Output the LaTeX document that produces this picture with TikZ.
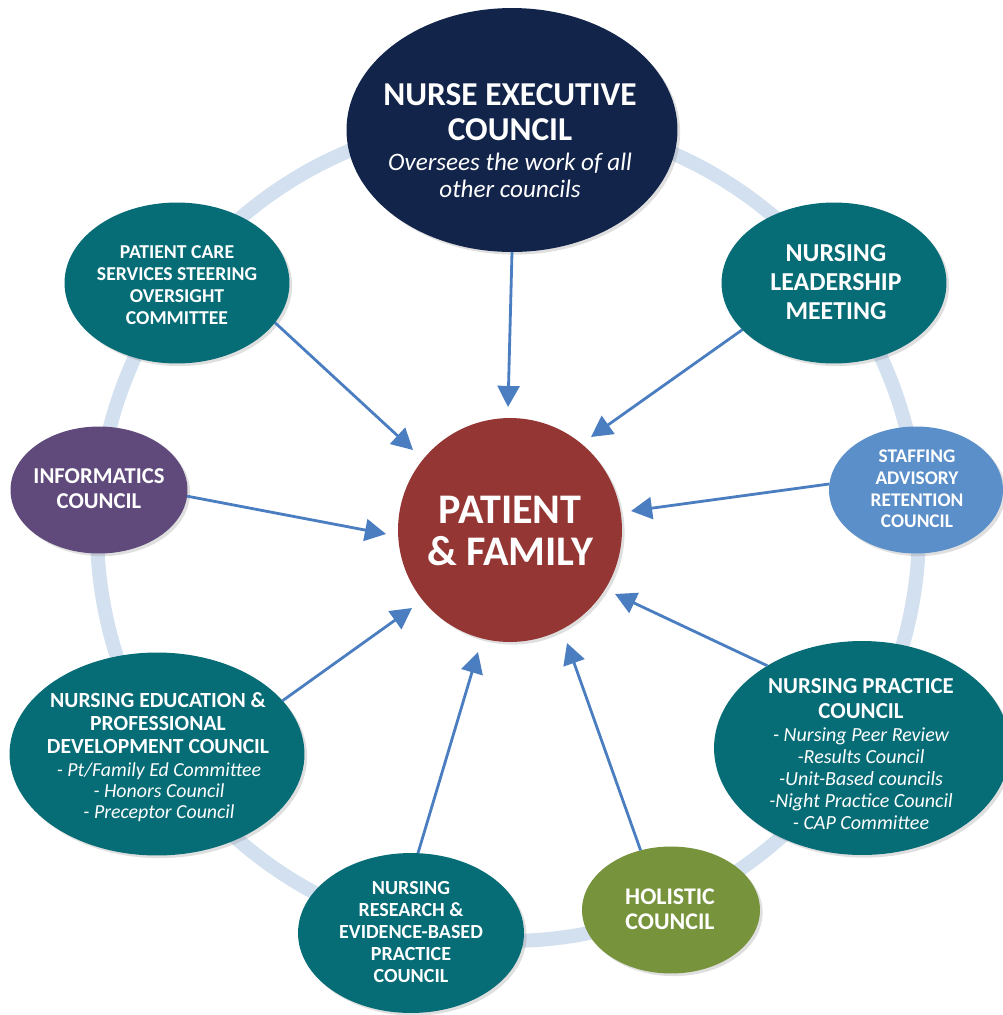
\documentclass[tikz,border=0pt]{standalone}
\usepackage{fontspec}
\setmainfont{Carlito}
\usetikzlibrary{shapes.geometric,arrows.meta,shadows}
\definecolor{navyc}{HTML}{12244A}
\definecolor{brickc}{HTML}{943634}
\definecolor{tealc}{HTML}{066C76}
\definecolor{purpc}{HTML}{604A7B}
\definecolor{skybc}{HTML}{5B8FCA}
\definecolor{olivec}{HTML}{77933C}
\definecolor{ringc}{HTML}{D3E0EF}
\definecolor{arrc}{HTML}{4A7EC0}
\begin{document}
\begin{tikzpicture}[x=0.02cm,y=-0.02cm,
  blob/.style={ellipse, inner sep=0pt, outer sep=0pt,
    drop shadow={shadow xshift=1.5pt,shadow yshift=-1.5pt,opacity=0.25}},
  lbl/.style={text=white, align=center, inner sep=0pt},
  arr/.style={draw=arrc, line width=1.6pt, -{Triangle[length=12pt,width=12.5pt]}},
  fsz/.style n args={2}{font=\fontsize{#1pt}{#2pt}\selectfont\bfseries},
  isz/.style n args={2}{font=\fontsize{#1pt}{#2pt}\selectfont\itshape},
]
\useasboundingbox (0,0) rectangle (1003,1015);
\draw[ringc, line width=8pt] (508,530) circle[radius=411];

% nodes
\node[blob, fill=navyc, minimum width=6.62cm, minimum height=4.88cm] (nec) at (512,130) {};
\node[circle, fill=brickc, inner sep=0pt, minimum size=4.48cm,
  drop shadow={shadow xshift=1.5pt,shadow yshift=-1.5pt,opacity=0.25}] (pf) at (510,530) {};
\node[blob, fill=tealc, minimum width=4.5cm, minimum height=3.22cm] (pcs) at (177,283) {};
\node[blob, fill=tealc, minimum width=4.5cm, minimum height=3.22cm] (nlm) at (834,283) {};
\node[blob, fill=purpc, minimum width=3.54cm, minimum height=2.54cm] (inf) at (99,490) {};
\node[blob, fill=skybc, minimum width=3.48cm, minimum height=2.54cm] (sar) at (916,490) {};
\node[blob, fill=tealc, minimum width=5.9cm, minimum height=4.06cm] (ned) at (157,754) {};
\node[blob, fill=tealc, minimum width=5.92cm, minimum height=4.28cm] (npc) at (862,748) {};
\node[blob, fill=tealc, minimum width=4.52cm, minimum height=3.2cm] (res) at (411,933) {};
\node[blob, fill=olivec, minimum width=3.56cm, minimum height=2.54cm] (hol) at (671,910) {};

% texts
\node[lbl, fsz={19}{20}] (necT) at (510,112) {NURSE EXECUTIVE\\COUNCIL};
\node[lbl, isz={14.3}{15.3}] (necS) at (510,175) {Oversees the work of all\\other councils};
\node[lbl, fsz={24}{23.5}] (pfT) at (510,531) {PATIENT\\\& FAMILY};
\node[lbl, fsz={11.2}{12.5}] (pcsT) at (177,285) {PATIENT CARE\\SERVICES STEERING\\OVERSIGHT\\COMMITTEE};
\node[lbl, fsz={14.7}{16.7}] (nlmT) at (836,282) {NURSING\\LEADERSHIP\\MEETING};
\node[lbl, fsz={12.9}{14.2}] (infT) at (99,489) {INFORMATICS\\COUNCIL};
\node[lbl, fsz={11}{12.3}] (sarT) at (917,489) {STAFFING\\ADVISORY\\RETENTION\\COUNCIL};
\node[lbl, fsz={12.3}{13}] (nedT) at (158,723) {NURSING EDUCATION \&\\PROFESSIONAL\\DEVELOPMENT COUNCIL};
\node[lbl, isz={11.3}{11.9}] (nedS) at (159,792) {- Pt/Family Ed Committee\\- Honors Council\\- Preceptor Council};
\node[lbl, fsz={13}{14.2}] (npcT) at (861,699) {NURSING PRACTICE\\COUNCIL};
\node[lbl, isz={11.4}{12.5}] (npcS) at (861,779) {- Nursing Peer Review\\-Results Council\\-Unit-Based councils\\-Night Practice Council\\- CAP Committee};
\node[lbl, fsz={11.4}{12.5}] (resT) at (411,932) {NURSING\\RESEARCH \&\\EVIDENCE-BASED\\PRACTICE\\COUNCIL};
\node[lbl, fsz={13.6}{14.2}] (holT) at (670,909) {HOLISTIC\\COUNCIL};

% arrow tips
\coordinate (t1) at (508,407);
\coordinate (t2) at (413,450);
\coordinate (t3) at (591,437);
\coordinate (t4) at (386,534);
\coordinate (t5) at (631,511);
\coordinate (t6) at (412,608);
\coordinate (t7) at (615,594);
\coordinate (t8) at (478,652);
\coordinate (t9) at (567,643);

\draw[arr] (nec.south) -- (t1);
\draw[arr] (pcs.-22.5) -- (t2);
\draw[arr] (nlm.-153) -- (t3);
\draw[arr] (inf.-4.5) -- (t4);
\draw[arr] (sar.176.7) -- (t5);
\draw[arr] (ned.23.9) -- (t6);
\draw[arr] (npc.139.4) -- (t7);
\draw[arr] (res.85.7) -- (t8);
\draw[arr] (hol.117.3) -- (t9);
\end{tikzpicture}
\end{document}
